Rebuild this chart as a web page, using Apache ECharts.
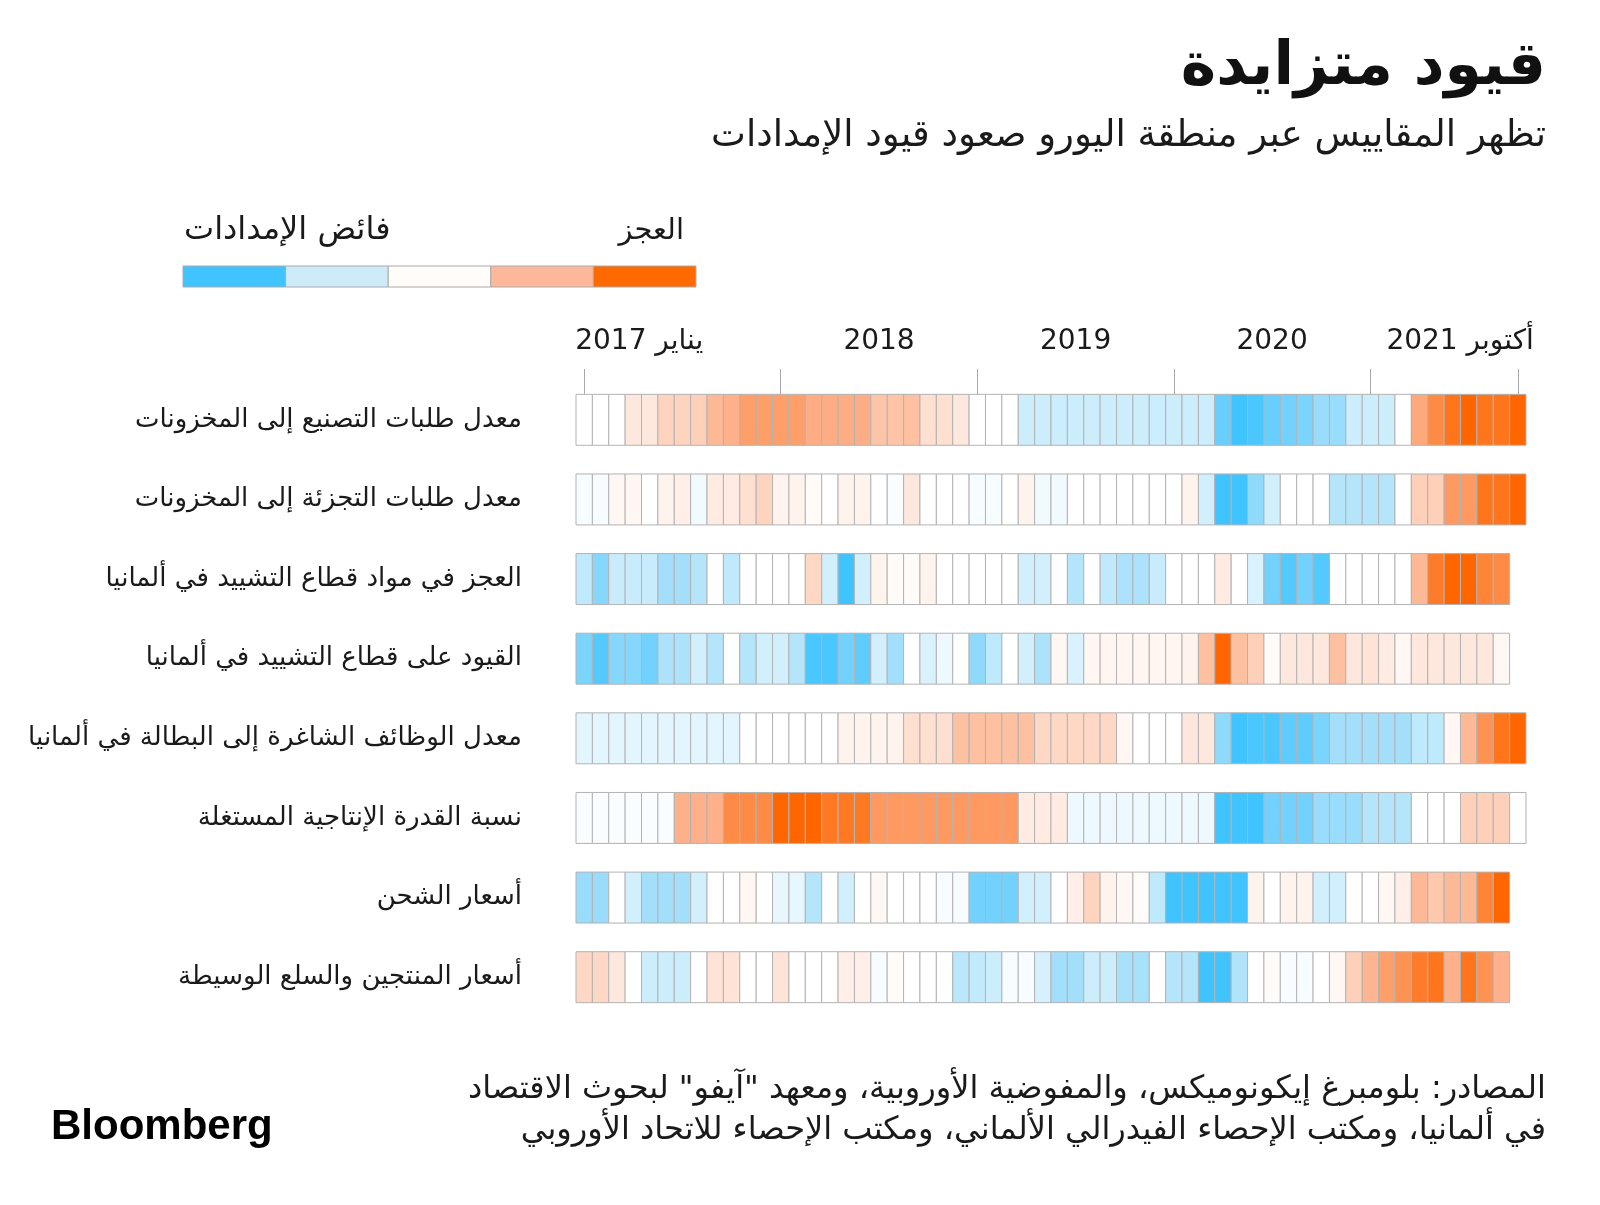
<!DOCTYPE html>
<html dir="rtl"><head><meta charset="utf-8">
<script src="https://cdn.jsdelivr.net/npm/echarts@6.0.0/dist/echarts.min.js"></script>
<style>html,body{margin:0;padding:0;background:#fff;overflow:hidden}#c{width:1600px;height:1205px}</style>
</head><body><div id="c"></div>
<script>
// ---------- DATA ----------
const months = [];
for (let y = 2017; y <= 2021; y++) for (let m = 1; m <= 12; m++) { if (y === 2021 && m > 10) break; months.push(y + '-' + String(m).padStart(2, '0')); }

const rowNames = [
  'معدل طلبات التصنيع إلى المخزونات',
  'معدل طلبات التجزئة إلى المخزونات',
  'العجز في مواد قطاع التشييد في ألمانيا',
  'القيود على قطاع التشييد في ألمانيا',
  'معدل الوظائف الشاغرة إلى البطالة في ألمانيا',
  'نسبة القدرة الإنتاجية المستغلة',
  'أسعار الشحن',
  'أسعار المنتجين والسلع الوسيطة'
];

// negative = supply surplus (blue), positive = shortage (orange)
const manufacturingOrders = [0,0,0,0.3,0.3,0.55,0.55,0.6,0.9,1.0, 1.25,1.25,1.25,1.25,1.05,1.05,1.05,1.05,0.75,0.75, 0.8,0.4,0.4,0.3,0,0,0,-0.55,-0.55,-0.55, -0.55,-0.55,-0.55,-0.55,-0.55,-0.55,-0.55,-0.55,-0.55,-1.6, -2,-1.9,-1.6,-1.5,-1.4,-1.1,-1.1,-0.55,-0.55,-0.55, 0,1.1,1.5,1.8,2.0,1.8,1.8,2.0];
const retailOrders = [-0.1,-0.1,0.1,0.1,0,0.15,0.2,-0.15,0.25,0.25, 0.4,0.55,0.15,0.15,0.05,0,0.15,0.15,0,-0.05, 0.3,0,0,0,-0.1,-0.1,0,0.15,-0.15,-0.15, 0,0,0,0,0,0,0,0.15,-0.5,-2, -2,-1.2,-0.5,0,0,0,-0.8,-0.8,-0.8,-0.8, 0,0.6,0.6,1.3,1.3,1.8,1.8,2.0];
const constructionShortage = [-0.7,-1.3,-0.6,-0.6,-0.6,-1.0,-1.0,-0.8,0,-0.7, 0,0,0,0,0.5,-0.5,-2,-0.5,0.15,0.05, 0.05,0.15,0,0,0,0,0,-0.5,-0.5,0, -0.8,0,-0.7,-0.9,-0.9,-0.6,0,0,0,0.25, 0,-0.4,-1.5,-1.8,-1.5,-1.8,0,0,0,0, 0,0.9,1.7,2.0,2.0,1.6,1.5];
const constructionLimits = [-1.4,-1.8,-1.3,-1.3,-1.5,-0.9,-0.9,-0.5,-0.8,0, -0.8,-0.5,-0.5,-0.8,-1.9,-1.9,-1.5,-1.7,-0.5,-1.0, 0,-0.4,-0.2,0,-1.2,-0.7,0,-0.5,-0.9,0.1, -0.4,0.1,0.12,0.12,0.12,0.12,0.12,0.15,0.8,2.0, 0.8,0.6,0.05,0.3,0.3,0.3,0.8,0.3,0.35,0.25, 0.1,0.3,0.3,0.3,0.3,0.3,0.1];
const vacanciesToUnemployment = [-0.3,-0.3,-0.3,-0.3,-0.3,-0.3,-0.3,-0.3,-0.3,-0.3, 0,0,0,0,0,0,0.15,0.15,0.15,0.15, 0.4,0.4,0.4,0.8,0.8,0.8,0.8,0.8,0.5,0.5, 0.5,0.5,0.5,0.1,0,0,0,0.3,0.3,-1.2, -2,-1.9,-1.9,-1.7,-1.7,-1.4,-1.0,-1.0,-1.0,-1.0, -1.0,-0.7,-0.7,0.1,0.9,1.4,1.8,2.0];
const capacityUtilization = [-0.05,-0.05,-0.05,-0.05,-0.05,-0.05,1.0,1.0,1.0,1.5, 1.5,1.5,2.0,2.0,2.0,1.75,1.75,1.75,1.3,1.3, 1.3,1.3,1.3,1.3,1.3,1.3,1.3,0.25,0.25,0.25, -0.2,-0.2,-0.2,-0.2,-0.2,-0.2,-0.2,-0.2,-0.2,-2, -2,-2,-1.5,-1.5,-1.5,-1.1,-1.1,-1.1,-0.8,-0.8, -0.8,0,0,0,0.6,0.6,0.6,0];
const freightPrices = [-1.1,-1.1,0,-0.5,-1.0,-1.0,-1.0,-0.5,0,0, 0.1,0,-0.25,-0.25,-0.8,0,-0.5,0,0.1,0, 0,0,-0.1,-0.1,-1.5,-1.5,-1.5,-0.5,-0.5,0, 0.2,0.55,0.15,0.1,0.05,-0.7,-2,-2,-2,-2, -2,0.15,0,0.15,0.15,-0.5,-0.5,0,0,0.1, 0.2,0.9,0.7,0.9,0.9,1.6,2.0];
const producerPrices = [0.5,0.5,0.3,0,-0.55,-0.55,-0.55,0,0.35,0.35, 0,0,0.35,0,0,0,0.2,0.2,-0.1,0.05, 0,0,0,-0.75,-0.65,-0.55,-0.1,-0.1,-0.45,-1.0, -1.0,-0.55,-0.55,-0.95,-0.95,0,-0.8,-0.8,-2,-2, -0.85,0,0.05,-0.1,-0.1,0,0.1,0.6,0.95,1.25, 1.4,1.7,1.8,1.0,1.8,1.4,1.0];

const rows = [manufacturingOrders, retailOrders, constructionShortage, constructionLimits,
              vacanciesToUnemployment, capacityUtilization, freightPrices, producerPrices];

const tickMonths = ['2017-01','2018-01','2019-01','2020-01','2021-01','2021-10'];
const tickLabels = ['يناير 2017','2018','2019','2020','أكتوبر 2021'];
const tickLabelMonths = ['2017-01','2018-07','2019-07','2020-07','2021-10'];
const legendColors = ['#40c4ff','#cdebf8','#fffcfa','#fdb89a','#ff6a00'];
const scaleColors = ['#40c4ff','#a3dffa','#ffffff','#fdb08a','#ff6600'];

// ---------- BUILD ----------
const cells = [];
rows.forEach((arr, r) => arr.forEach((v, i) => { if (v !== null && v !== undefined) cells.push([i, r, v]); }));
const tickPos = tickMonths.map(m => months.indexOf(m));
const labelPos = tickLabelMonths.map(m => months.indexOf(m));
const labelMap = {}; labelPos.forEach((p, k) => labelMap[p] = k);

const AR = '"DejaVu Sans", sans-serif';
const NUM = '"Liberation Sans Narrow", "DejaVu Sans", sans-serif';

const legendGraphics = [];
legendColors.forEach((c, k) => legendGraphics.push({
  type: 'rect', shape: { x: 183 + k * 102.6, y: 266, width: 102.6, height: 21 },
  style: { fill: c, stroke: '#aaaaaa', lineWidth: 1 }
}));

const chart = echarts.init(document.getElementById('c'), null, { renderer: 'canvas' });
chart.setOption({
  backgroundColor: '#ffffff',
  animation: false,
  grid: { left: 576, right: 74, top: 380, height: 637, containLabel: false },
  xAxis: [
    { type: 'category', data: months, show: false },
    { type: 'value', position: 'top', min: -0.5, max: 57.5, offset: -14,
      axisLine: { show: false }, splitLine: { show: false },
      axisTick: { show: true, customValues: tickPos, length: 25, lineStyle: { color: '#a8a8a8', width: 1 } },
      axisLabel: { show: true, customValues: labelPos, margin: 38, fontSize: 28, color: '#1a1a1a', fontFamily: NUM,
        alignMinLabel: 'left', alignMaxLabel: 'right',
        formatter: v => {
          const k = labelMap[v];
          if (k === undefined) return '';
          if (k === tickLabels.length - 1) return '{r|' + tickLabels[k] + '}';
          if (k === 0) return '{l|' + tickLabels[k] + '}';
          return tickLabels[k];
        },
        rich: {
          r: { fontSize: 28, fontFamily: NUM, color: '#1a1a1a', padding: [0, -16, 0, 0] },
          l: { fontSize: 28, fontFamily: NUM, color: '#1a1a1a', padding: [0, 0, 0, -9] }
        } } }
  ],
  yAxis: { type: 'category', data: rowNames, inverse: true,
    axisLine: { show: false }, axisTick: { show: false }, splitLine: { show: false },
    axisLabel: { margin: 54, fontSize: 26, color: '#1a1a1a', fontFamily: AR } },
  visualMap: { type: 'continuous', show: false, min: -2, max: 2, dimension: 2, seriesIndex: 0,
    inRange: { color: scaleColors } },
  series: [{
    type: 'custom', xAxisIndex: 0, yAxisIndex: 0, data: cells,
    renderItem: (params, api) => {
      const c = api.coord([api.value(0), api.value(1)]);
      const s = api.size([1, 1]);
      const h = s[1] * 0.64;
      return { type: 'rect', shape: { x: c[0] - s[0] / 2, y: c[1] - h / 2, width: s[0], height: h },
        style: { fill: api.visual('color'), stroke: '#b3b3b3', lineWidth: 1 } };
    }
  }],
  graphic: [
    { type: 'text', x: 1546, y: 68, style: { text: 'قيود متزايدة', align: 'right', verticalAlign: 'middle',
      font: 'bold 60px ' + AR, fill: '#111111' } },
    { type: 'text', x: 1546, y: 136, style: { text: 'تظهر المقاييس عبر منطقة اليورو صعود قيود الإمدادات', align: 'right', verticalAlign: 'middle',
      font: '37px ' + AR, fill: '#1a1a1a' } },
    { type: 'text', x: 684, y: 231, style: { text: 'العجز', align: 'right', verticalAlign: 'middle', font: '29px ' + AR, fill: '#1a1a1a' } },
    { type: 'text', x: 184, y: 231, style: { text: 'فائض الإمدادات', align: 'left', verticalAlign: 'middle', font: '32px ' + AR, fill: '#1a1a1a' } },
    ...legendGraphics,
    { type: 'text', x: 1546, y: 1110, style: { text: 'المصادر: بلومبرغ إيكونوميكس، والمفوضية الأوروبية، ومعهد "آيفو" لبحوث الاقتصاد\nفي ألمانيا، ومكتب الإحصاء الفيدرالي الألماني، ومكتب الإحصاء للاتحاد الأوروبي',
      align: 'right', verticalAlign: 'middle', font: '32px ' + AR, lineHeight: 41, fill: '#1a1a1a' } },
    { type: 'text', x: 51, y: 1127, style: { text: 'Bloomberg', align: 'left', verticalAlign: 'middle',
      font: 'bold 42px "Liberation Sans", Arial, sans-serif', fill: '#000000' } }
  ]
});
</script></body></html>
